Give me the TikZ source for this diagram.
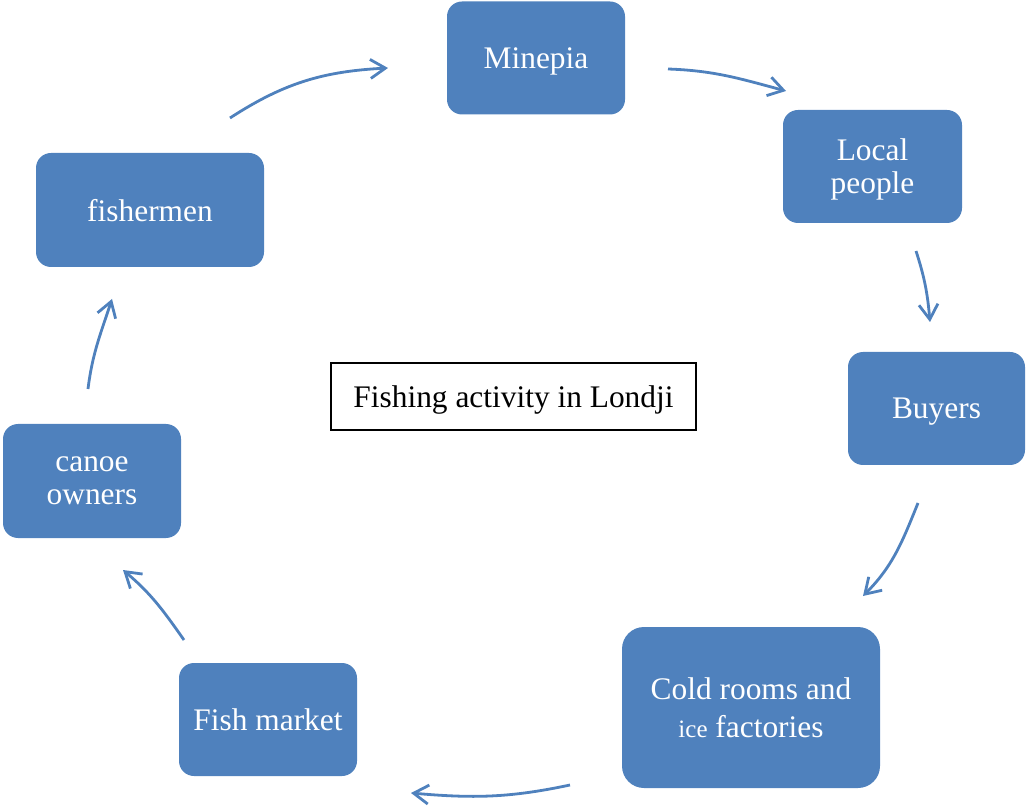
\documentclass[tikz,border=0pt]{standalone}
\usepackage{fontspec}
\setmainfont{Liberation Serif}
\usetikzlibrary{arrows.meta}
\definecolor{actblue}{RGB}{79,129,189}
\tikzset{
  actbox/.style={rectangle,rounded corners=7.5pt,fill=actblue,text=white,
                 minimum width=#1,minimum height=56.5pt,align=center,
                 inner sep=2pt,text depth=0pt,font=\fontsize{15.7}{16.5}\selectfont},
  actbox/.default=89pt,
  titlebox/.style={rectangle,draw=black,line width=0.8pt,fill=white,
                   minimum width=182.5pt,minimum height=33.5pt,text depth=0pt,
                   font=\fontsize{15.7}{16.5}\selectfont},
  arr/.style={-{Straight Barb[length=7.5pt,width=9.5pt]},line width=1.4pt,color=actblue},
}
\begin{document}
\begin{tikzpicture}[x=0.5pt,y=0.5pt]
    \useasboundingbox (0,0) rectangle (1028,-807);

    % boxes round the cycle
    \node[actbox] (minepia) at (536,-58) {Minepia};
    \node[actbox=89.5pt] (local) at (872.5,-166.5) {Local\\people};
    \node[actbox=88.5pt] (buyers) at (936.5,-408.5) {Buyers};
    \node[actbox=129pt, minimum height=80.5pt, rounded corners=11pt,
          font=\fontsize{15.7}{19}\selectfont] (cold) at (751,-707.5)
          {Cold rooms and\\{\fontsize{12.5}{19}\selectfont ice} factories};
    \node[actbox] (market) at (268,-719.5) {Fish market};
    \node[actbox, minimum height=57pt] (canoe) at (92,-481) {canoe\\owners};
    \node[actbox=114pt, minimum height=57pt] (fishermen) at (150,-210) {fishermen};

    \node[titlebox] (title) at (513.5,-396.5) {Fishing activity in Londji};

    % free ends of the arrows
    \coordinate (a1s) at (230,-118);  \coordinate (a1e) at (388,-68);
    \coordinate (a2s) at (668,-69);   \coordinate (a2e) at (786,-91);
    \coordinate (a3s) at (916,-251);  \coordinate (a3e) at (930,-322);
    \coordinate (a4s) at (918,-503);  \coordinate (a4e) at (863,-596);
    \coordinate (a5s) at (570,-785);  \coordinate (a5e) at (411,-793);
    \coordinate (a6s) at (184,-640);  \coordinate (a6e) at (123,-570);
    \coordinate (a7s) at (88,-389);   \coordinate (a7e) at (112,-299);

    \draw[arr] (a1s) to[out=33,in=183] (a1e);
    \draw[arr] (a2s) to[out=-2,in=165] (a2e);
    \draw[arr] (a3s) to[out=-72,in=95] (a3e);
    \draw[arr] (a4s) to[out=-112,in=45] (a4e);
    \draw[arr] (a5s) to[out=192,in=-5] (a5e);
    \draw[arr] (a6s) to[out=125,in=-40] (a6e);
    \draw[arr] (a7s) to[out=83,in=-108] (a7e);
\end{tikzpicture}
\end{document}
